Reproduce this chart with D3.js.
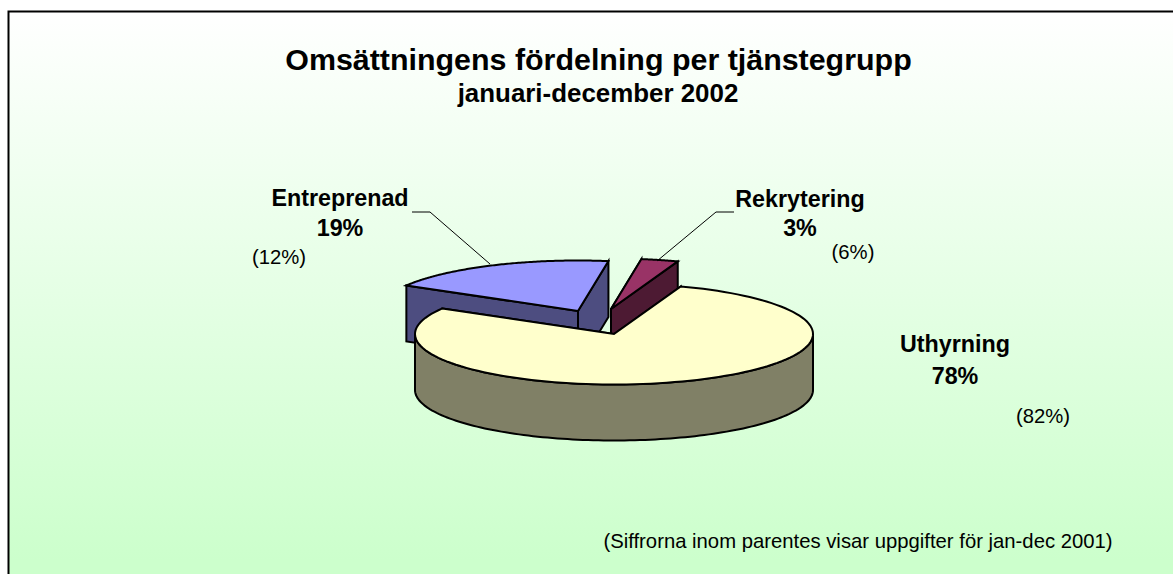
<!DOCTYPE html>
<html><head><meta charset="utf-8">
<script src="https://cdn.jsdelivr.net/npm/d3@7/dist/d3.min.js"></script>
<style>html,body{margin:0;padding:0;background:#fff}svg{display:block}text{font-family:"Liberation Sans",Arial,sans-serif;fill:#000}</style>
</head><body><div id="c"></div>
<script>
const categories = ["Rekrytering", "Uthyrning", "Entreprenad"];
const values2002 = [3, 78, 19];
const labels2002 = ["3%", "78%", "19%"];
const labels2001 = ["(6%)", "(82%)", "(12%)"];
const topColors = ["#993366", "#FFFFCC", "#9999FF"];
const wallColors = ["#4D1A33", "#808066", "#4D4D80"];
const explodeX = [-3, 0, -36];
const explodeY = [-25, 0, -23];
const labelPos = [[800, 199, 228, 853, 252], [955, 344, 376, 1043, 416], [340, 198, 228, 279, 257]];

const W = 1173, H = 574, cx = 614, cy = 334, rx = 199, ry = 50.5, depth = 56;
const svg = d3.select("#c").append("svg").attr("width", W).attr("height", H);
const grad = svg.append("defs").append("linearGradient").attr("id", "bg").attr("gradientUnits", "userSpaceOnUse").attr("x1", 0).attr("x2", 0).attr("y1", 11).attr("y2", 560);
grad.append("stop").attr("offset", 0).attr("stop-color", "#FFFFFF");
grad.append("stop").attr("offset", 1).attr("stop-color", "#CCFFCC");
svg.append("rect").attr("x", 8.5).attr("y", 11.5).attr("width", W + 10).attr("height", H).attr("fill", "url(#bg)").attr("stroke", "#000").attr("stroke-width", 2);

const pie = d3.pie().sort(null).value(d => d).startAngle(8.8 * Math.PI / 180).endAngle((360 + 8.8) * Math.PI / 180);
const arcs = pie(values2002);
const x = d3.scaleLinear().domain([-1, 1]).range([cx - rx, cx + rx]);
const y = d3.scaleLinear().domain([-1, 1]).range([cy - ry, cy + ry]);
const line = d3.line();
const outer = (a, dx, dy, dz) => [x(Math.sin(a)) + dx, y(-Math.cos(a)) + dy + dz];
const arcPts = (a0, a1, dx, dy, dz) => d3.range(0, 121).map(i => outer(a0 + (a1 - a0) * i / 120, dx, dy, dz));

const order = [2, 0, 1];
const g = svg.append("g").attr("stroke", "#000").attr("stroke-width", 2).attr("stroke-linejoin", "miter");
order.forEach(i => {
  const d = arcs[i], dx = explodeX[i], dy = explodeY[i];
  const apex = [cx + dx, cy + dy], apexB = [cx + dx, cy + dy + depth];
  const a0 = d.startAngle, a1 = d.endAngle;
  [a0, a1].forEach(a => {
    const p = outer(a, dx, dy, 0), q = outer(a, dx, dy, depth);
    g.append("path").attr("d", line([apex, p, q, apexB]) + "Z").attr("fill", wallColors[i]);
  });
  const s = Math.max(a0, Math.PI / 2), e = Math.min(a1, 3 * Math.PI / 2);
  if (e > s) {
    const top = arcPts(s, e, dx, dy, 0), bot = arcPts(e, s, dx, dy, depth);
    g.append("path").attr("d", line(top.concat(bot)) + "Z").attr("fill", wallColors[i]);
  }
  g.append("path").attr("d", line([apex].concat(arcPts(a0, a1, dx, dy, 0))) + "Z").attr("fill", topColors[i]);
});

const leaderEntre = [[412, 212], [430, 212], [490, 264]];
const leaderRekry = [[734, 212], [716, 212], [657, 261]];
[leaderEntre, leaderRekry].forEach(l => svg.append("path").attr("d", line(l)).attr("fill", "none").attr("stroke", "#000").attr("stroke-width", 1));

const t = (s, px, py, size, bold, anchor = "middle") => svg.append("text").attr("x", px).attr("y", py).attr("font-size", size).attr("font-weight", bold ? 700 : 400).attr("text-anchor", anchor).text(s);
t("Omsättningens fördelning per tjänstegrupp", 598.5, 70, 30.4, true);
t("januari-december 2002", 598, 102, 25.9, true);
categories.forEach((c, i) => {
  const p = labelPos[i];
  t(c, p[0], p[1] + 7.5, 23.3, true);
  t(labels2002[i], p[0], p[2] + 7.5, 23.3, true);
  t(labels2001[i], p[3], p[4] + 6.5, 20.3, false);
});
t("(Siffrorna inom parentes visar uppgifter för jan-dec 2001)", 858, 547.5, 20.3, false);
</script></body></html>
